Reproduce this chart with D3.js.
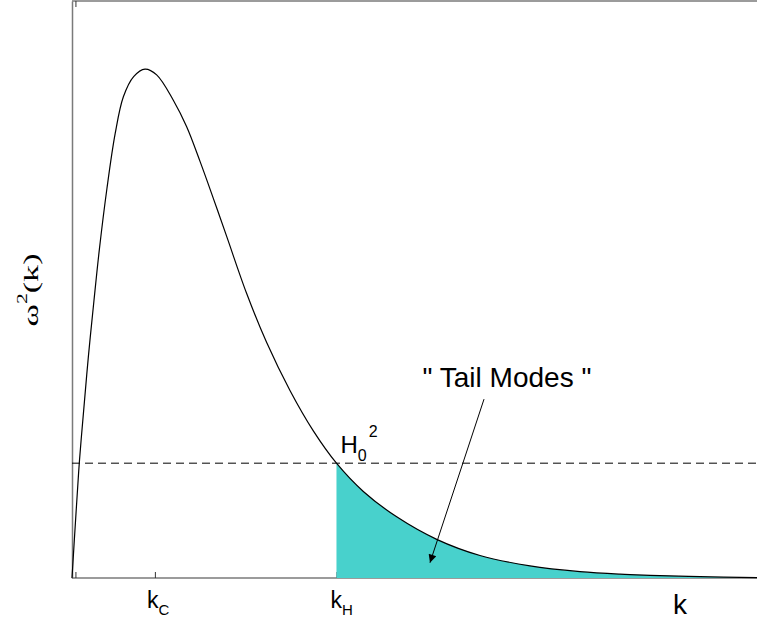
<!DOCTYPE html>
<html>
<head>
<meta charset="utf-8">
<script src="https://cdn.jsdelivr.net/npm/d3@7"></script>
<style>
  body { margin: 0; background: #fff; }
  svg { display: block; }
</style>
</head>
<body>
<div id="plot"></div>
<script>
// curve: k (arbitrary units) and omega^2 (fraction of axis height)
const kValues = [0, 0.06, 0.11, 0.17, 0.24, 0.32, 0.40, 0.51, 0.63, 0.75, 0.90,
  1.066, 1.236, 1.479, 1.674, 1.869, 2.063, 2.258, 2.550, 2.842, 3.182, 3.523, 3.861,
  4.253, 4.740, 5.324, 5.956, 6.686, 7.416, 8.0, 8.438, 9.168, 10];
const omega2 = [0, 0.115, 0.205, 0.29, 0.385, 0.48, 0.57, 0.675, 0.77, 0.834, 0.869,
  0.882, 0.872, 0.828, 0.782, 0.722, 0.658, 0.592, 0.493, 0.408, 0.325, 0.255, 0.199,
  0.150, 0.106, 0.067, 0.039, 0.021, 0.011, 0.0066, 0.0047, 0.0023, 0.0005];

// special values
const k0 = 0.05;
const kC = 1.21;
const kH = 3.861;
const H0sq = 0.199;

const data = kValues.map((k, i) => ({ k: k, w: omega2[i] }));

const W = 757, H = 621;
const x = d3.scaleLinear().domain([0, 10]).range([72, 757]);
const y = d3.scaleLinear().domain([0, 1]).range([578, 1]);

const svg = d3.select("#plot").append("svg")
    .attr("width", W)
    .attr("height", H);

svg.append("defs").append("marker")
    .attr("id", "arrow")
    .attr("viewBox", "0 0 10 10")
    .attr("refX", 10).attr("refY", 5)
    .attr("markerWidth", 11).attr("markerHeight", 8)
    .attr("markerUnits", "userSpaceOnUse")
    .attr("orient", "auto")
  .append("path")
    .attr("d", "M0,0L10,5L0,10Z")
    .attr("fill", "#000");

// axes (ticks pointing inward)
const bottomAxis = svg.append("g")
  .attr("transform", `translate(0,${y(0)})`)
  .call(d3.axisBottom(x).tickValues([k0, kC, kH]).tickSize(-6).tickFormat(""));
const topAxis = svg.append("g")
  .attr("transform", `translate(0,${y(1)})`)
  .call(d3.axisTop(x).tickValues([k0]).tickSize(-6).tickFormat(""));
const leftAxis = svg.append("g")
  .attr("transform", `translate(${x(0)},0)`)
  .call(d3.axisLeft(y).tickValues([]).tickSizeOuter(0));
[bottomAxis, topAxis, leftAxis].forEach(g => {
  g.select(".domain").attr("stroke", "#7a7a7a").attr("stroke-width", 1.5);
  g.selectAll(".tick line").attr("stroke", "#333").attr("stroke-width", 1);
});
bottomAxis.select(".domain").attr("d", `M${x(0)},0H${W}`);
topAxis.select(".domain").attr("d", `M${x(0)},0H${W}`);

const smooth = d3.curveCatmullRom.alpha(0.5);

// tail modes area
const area = d3.area()
    .x(d => x(d.k))
    .y0(y(0))
    .y1(d => y(d.w))
    .curve(smooth);
svg.append("path")
  .datum(data.filter(d => d.k >= kH))
  .attr("fill", "mediumturquoise")
  .attr("d", area);

// H0^2 dashed line
svg.append("line")
  .attr("x1", x(0)).attr("x2", W)
  .attr("y1", y(H0sq)).attr("y2", y(H0sq))
  .attr("stroke", "#000")
  .attr("stroke-width", 1)
  .attr("stroke-dasharray", "8,5");

// the curve
const line = d3.line()
    .x(d => x(d.k))
    .y(d => y(d.w))
    .curve(smooth);
svg.append("path")
  .datum(data)
  .attr("fill", "none")
  .attr("stroke", "#000")
  .attr("stroke-width", 1.2)
  .attr("d", line);

const sans = "'Liberation Sans', Arial, sans-serif";

// tick labels with subscripts
function subLabel(xPos, main, sub) {
  const t = svg.append("text")
    .attr("x", xPos)
    .attr("y", 608)
    .attr("font-family", sans)
    .attr("font-size", 23);
  t.append("tspan").text(main);
  t.append("tspan").attr("font-size", 15).attr("dy", 7).text(sub);
}
subLabel(x(kC) - 8, "k", "C");
subLabel(x(kH) - 6, "k", "H");

// x title
svg.append("text")
  .attr("x", 673).attr("y", 614)
  .attr("font-family", sans)
  .attr("font-size", 28)
  .text("k");

// H0^2 label
const hl = svg.append("text")
  .attr("x", x(kH) + 4)
  .attr("y", y(H0sq) - 10)
  .attr("font-family", sans)
  .attr("font-size", 24);
hl.append("tspan").text("H");
hl.append("tspan").attr("font-size", 16).attr("dy", 8).text("0");
hl.append("tspan").attr("font-size", 16).attr("dx", 2).attr("dy", -24).text("2");

// y title
const yl = svg.append("text")
  .attr("transform", "translate(38,290) rotate(-90) scale(1.55,1)")
  .attr("text-anchor", "middle")
  .attr("font-family", "'Liberation Serif', 'Times New Roman', serif")
  .attr("font-size", 22);
yl.append("tspan").text("ω");
yl.append("tspan").attr("font-size", 14).attr("dy", -11).text("2");
yl.append("tspan").attr("dy", 11).text("(k)");

// annotation
svg.append("text")
  .attr("x", x(6.35)).attr("y", y(0.331))
  .attr("text-anchor", "middle")
  .attr("font-family", sans)
  .attr("font-size", 28)
  .text("\" Tail Modes \"");
svg.append("line")
  .attr("x1", x(6.015)).attr("y1", y(0.310))
  .attr("x2", x(5.226)).attr("y2", y(0.0265))
  .attr("stroke", "#000")
  .attr("stroke-width", 1)
  .attr("marker-end", "url(#arrow)");
</script>
</body>
</html>
